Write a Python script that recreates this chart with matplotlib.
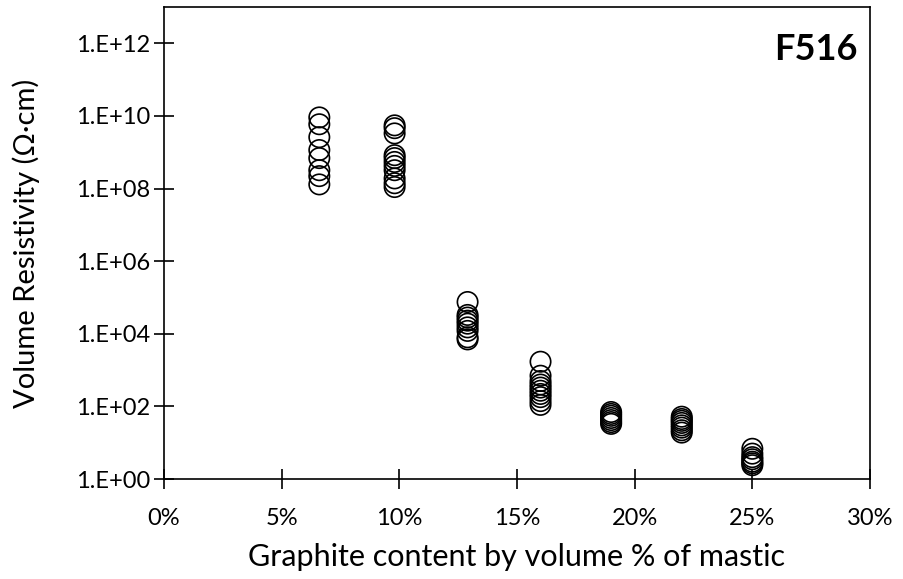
import numpy as np
import matplotlib
matplotlib.use("Agg")
import matplotlib.pyplot as plt
from matplotlib.ticker import FixedLocator, FuncFormatter

plt.rcParams["font.family"] = ["Lato", "DejaVu Sans"]

# graphite content (fraction of mastic volume) for each group of samples
groups_x = [0.066, 0.098, 0.129, 0.160, 0.190, 0.220, 0.250]

# measured volume resistivity (ohm cm) per group
res_066 = [9.1e9, 5.9e9, 2.6e9, 1.15e9, 6.9e8, 3.2e8, 2.2e8, 1.3e8]
res_098 = [5.5e9, 4.6e9, 3.3e9, 8.3e8, 6.9e8, 5.4e8, 4.2e8, 3.2e8, 1.9e8, 1.4e8, 1.1e8]
res_129 = [7.5e4, 3.3e4, 2.8e4, 2.3e4, 1.9e4, 1.5e4, 1.2e4, 8.0e3, 7.0e3]
res_160 = [1.7e3, 7.0e2, 5.0e2, 4.0e2, 3.3e2, 2.7e2, 2.2e2, 1.8e2, 1.4e2, 1.1e2]
res_190 = [70, 62, 55, 48, 42, 37, 33]
res_220 = [52, 45, 40, 35, 30, 26, 22, 19]
res_250 = [6.8, 5.0, 4.0, 3.5, 3.0, 2.7, 2.4]

all_res = [res_066, res_098, res_129, res_160, res_190, res_220, res_250]

x_ticks = [0, 0.05, 0.10, 0.15, 0.20, 0.25, 0.30]
y_ticks = [1e0, 1e2, 1e4, 1e6, 1e8, 1e10, 1e12]

fig = plt.figure(figsize=(9.04, 5.79), dpi=100)
ax = fig.add_axes([0.1814, 0.1727, 0.7810, 0.8152])

for gx, vals in zip(groups_x, all_res):
    ax.scatter([gx] * len(vals), vals, s=215, facecolors="none",
               edgecolors="black", linewidths=1.2, zorder=3)

ax.set_yscale("log")
ax.set_xlim(0, 0.30)
ax.set_ylim(1e0, 1e13)
ax.yaxis.set_major_locator(FixedLocator(y_ticks))
ax.yaxis.set_minor_locator(FixedLocator([]))
ax.yaxis.set_major_formatter(FuncFormatter(lambda v, p: "1.E+%02d" % round(np.log10(v))))
ax.xaxis.set_major_locator(FixedLocator(x_ticks))
ax.xaxis.set_major_formatter(FuncFormatter(lambda v, p: "%d%%" % round(v * 100)))

for sp in ax.spines.values():
    sp.set_linewidth(1.2)
ax.tick_params(axis="both", which="major", direction="inout", length=14,
               width=1.2, labelsize=17)
ax.tick_params(axis="x", pad=14)
ax.tick_params(axis="y", pad=3)

ax.set_xlabel("Graphite content by volume % of mastic", fontsize=22, labelpad=10)
ax.set_ylabel("Volume Resistivity (\u03a9\u00b7cm)", fontsize=21, labelpad=26)

ax.text(0.983, 0.91, "F516", transform=ax.transAxes, ha="right", va="center",
        fontsize=26, fontweight="bold")

fig.savefig("out.png", dpi=100)
